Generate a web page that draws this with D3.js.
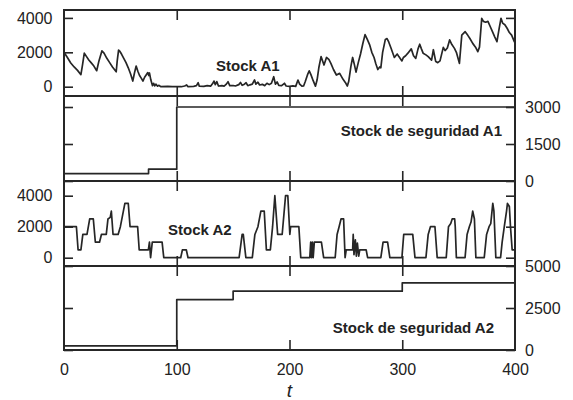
<!DOCTYPE html>
<html><head><meta charset="utf-8">
<script src="https://cdn.jsdelivr.net/npm/d3@7"></script>
<style>
body{margin:0;background:#fff}
svg text{font-family:"Liberation Sans",Arial,sans-serif;fill:#222}
</style>
</head><body>
<svg id="c" width="573" height="400"></svg>
<script>
// ---- data ----
const xTicks = [0, 100, 200, 300, 400];
const stockTicks = [0, 2000, 4000];
const safety1Ticks = [0, 1500, 3000];
const safety2Ticks = [0, 2500, 5000];
const titles = ["Stock A1", "Stock de seguridad A1", "Stock A2", "Stock de seguridad A2"];

const stockA1 = [
[0,2000],[3,1700],[6,1380],[9,1150],[12,950],[15,700],[16.5,1300],[18,1950],[20,1750],[22,1550],[24,1400],[26.5,1200],[29,930],[31,1500],[33.6,2080],[35.5,1950],[38,1650],[40.5,1400],[43,1150],[46.3,870],[47.2,1500],[48.4,2130],[49.6,2050],[51,1900],[53,1650],[55,1400],[57,1100],[59,750],[61,330],[62.5,800],[64,1200],[65.5,900],[67,650],[68.5,500],[70,330],[71.5,550],[73,700],[74.3,820],[75.2,650],[75.8,800],[77,400],[78.5,60],[79.5,200],[80.5,50],[81.5,150],[83,30],[84,80],[86,0],[92,20],[96,0],[100,10],[104,0],[107,40],[108.8,100],[110,0],[115,20],[117.5,60],[119,230],[120,30],[124,20],[127,60],[130,30],[132,200],[133,330],[134.2,120],[135.5,300],[137,40],[140,60],[142,30],[144,150],[145.5,290],[147,60],[150,70],[152,40],[155,120],[156.5,250],[158,80],[160,150],[161.5,230],[163,60],[165,110],[167,150],[169,390],[170.2,150],[172,260],[173.5,100],[176,140],[178,60],[180,200],[182,120],[184,200],[186,580],[187.5,150],[189,280],[190.5,80],[193,60],[195.5,200],[197,40],[200,20],[203,50],[205.5,20],[207.5,390],[209,150],[211,30],[212.5,40],[214,300],[216,700],[217.5,920],[219,700],[221,350],[223,30],[224.5,400],[226,1100],[228,1750],[230.6,1260],[232.8,1700],[234.9,1590],[236.7,1360],[239,1000],[241.6,680],[244.5,775],[247.5,430],[249.5,250],[251.3,40],[252.5,300],[254.5,1200],[256,1700],[257.5,1300],[259,850],[261,1400],[263,1900],[265,2500],[267,3030],[269,2750],[271,2450],[273,2000],[275,1700],[276.5,1350],[278.3,1000],[280,1150],[281,1100],[282.6,2000],[285,2750],[286.5,2800],[288,2600],[290,2250],[293,1700],[295.5,1900],[297,1750],[299.7,1500],[301,1700],[303,1800],[305,1950],[308,2200],[310,1800],[312,1650],[314,2200],[315.5,2470],[317,2200],[318.5,1950],[321,1850],[323,1750],[326,1550],[327.6,2150],[329.7,1460],[331.5,1400],[333.5,1500],[336.4,2290],[338,2100],[340,2250],[342,2720],[344,2450],[346.3,2230],[348,2000],[350.7,1360],[352.8,3000],[355.8,3200],[358,3000],[360,2800],[362.5,2520],[365,2300],[367,2040],[368.5,2300],[370.5,3970],[372,3800],[374,3750],[376,3800],[378,3500],[380,3200],[382,2900],[384,2620],[386,3400],[387.6,3980],[389,3700],[391,3600],[393,3400],[395,3150],[397,3000],[399.4,2620],[400,2550]
];

const safetyA1 = [[0,300],[75,480],[100,3000],[400,3000]];

const stockA2 = [
[0,2000],[11,2000],[12.5,500],[15,500],[16.7,1500],[20.4,1500],[22.8,2500],[26,2500],[27.8,1000],[31.5,1000],[33.2,1500],[37.5,1500],[39,2500],[41,2600],[42,3000],[43.5,1500],[48,1500],[50,2000],[54,3500],[57,3500],[58.6,2000],[65.3,2000],[66.7,500],[74.8,500],[75.8,1000],[76.8,0],[78.3,1000],[87,1000],[88.5,0],[103.5,0],[105,500],[108.5,500],[110,0],[155.3,0],[158,1500],[159,1500],[161.3,0],[167,0],[169.3,1500],[172,2000],[174.6,3000],[177.6,3000],[179.5,500],[183,500],[185,2000],[187,4000],[188,3000],[189.5,1500],[193.5,1500],[196.5,4000],[198.5,4000],[200.3,1500],[201,2000],[208.3,2000],[210,0],[218,0],[218.8,1000],[219.5,0],[220.3,1000],[221,0],[222,1000],[228.3,1000],[230.3,0],[240.5,0],[242.2,1500],[244,2000],[245.7,2500],[248,2500],[249.3,0],[250.3,500],[256,500],[256.5,1500],[257.2,200],[258.4,1150],[259.3,100],[260.2,950],[261.4,100],[262.3,500],[268,500],[269.3,0],[281,0],[283,1000],[287,1000],[289,0],[299.7,0],[301.3,1500],[309.3,1500],[311.3,0],[321,0],[323,1500],[325,2000],[329,2000],[331,0],[339,0],[341,2000],[343,2200],[344.3,2500],[346.5,2500],[347,2000],[348,0],[355.7,0],[357.5,1500],[359.5,2000],[361,2300],[362.5,3000],[364,2500],[365.3,0],[372.7,0],[374.8,1500],[377,2000],[378.5,2200],[380.3,3500],[381.3,3000],[383,0],[387.2,0],[388.6,1000],[390.5,2000],[392.5,3000],[393.3,3500],[395,3300],[396,2000],[397.5,500],[400,500]
];

const safetyA2 = [[0,250],[100,3000],[150,3500],[300,4000],[400,4000]];

// ---- drawing ----
const svg = d3.select("#c");
const X0 = 64, X1 = 515;
const x = d3.scaleLinear().domain([0, 400]).range([X0, X1]);
const ink = "#262626";
const fmt = d3.format("d");

const panels = [
  {top:10,  bottom:96,  domain:[-540,4460], data:stockA1,  step:false, ticks:stockTicks,   side:"left",  title:titles[0], tx:216, ty:70.5, anchor:"start"},
  {top:96,  bottom:181, domain:[0,3446],    data:safetyA1, step:true,  ticks:safety1Ticks, side:"right", title:titles[1], tx:502, ty:136,  anchor:"end"},
  {top:181, bottom:266, domain:[-535,4948], data:stockA2,  step:false, ticks:stockTicks,   side:"left",  title:titles[2], tx:168, ty:235,  anchor:"start"},
  {top:266, bottom:350, domain:[0,5000],    data:safetyA2, step:true,  ticks:safety2Ticks, side:"right", title:titles[3], tx:494, ty:333,  anchor:"end"}
];

function styleAxis(g, keepText) {
  g.select(".domain").remove();
  g.selectAll(".tick line").attr("stroke", ink).attr("stroke-width", 1.6);
  if (!keepText) g.selectAll(".tick text").remove();
  else g.selectAll(".tick text").attr("fill", ink).style("font-size", "16px")
        .style("font-family", '"Liberation Sans", Arial, sans-serif');
}

panels.forEach((p, i) => {
  const y = d3.scaleLinear().domain(p.domain).range([p.bottom, p.top]);
  const g = svg.append("g");

  // data line
  const line = d3.line().x(d => x(d[0])).y(d => y(d[1]))
    .curve(p.step ? d3.curveStepAfter : d3.curveLinear);
  g.append("path").datum(p.data).attr("d", line)
    .attr("fill", "none").attr("stroke", ink).attr("stroke-width", 1.7)
    .attr("stroke-linejoin", "round");

  // y axes (ticks inward on both sides)
  g.append("g").attr("transform", `translate(${X0},0)`)
    .call(d3.axisLeft(y).tickValues(p.ticks).tickFormat(fmt).tickSize(-9).tickPadding(11.5))
    .call(a => styleAxis(a, p.side === "left"));
  g.append("g").attr("transform", `translate(${X1},0)`)
    .call(d3.axisRight(y).tickValues(p.ticks).tickFormat(fmt).tickSize(-9).tickPadding(10))
    .call(a => styleAxis(a, p.side === "right"));

  // x ticks top & bottom (inward)
  g.append("g").attr("transform", `translate(0,${p.top})`)
    .call(d3.axisTop(x).tickValues([100,200,300]).tickSize(-10))
    .call(a => styleAxis(a, false));
  const isLast = i === panels.length - 1;
  g.append("g").attr("transform", `translate(0,${p.bottom})`)
    .call(d3.axisBottom(x).tickValues(isLast ? xTicks : [100,200,300]).tickFormat(fmt).tickSize(-10).tickPadding(13.5))
    .call(a => {
      styleAxis(a, isLast);
      if (isLast) a.selectAll(".tick line").filter(d => d === 0 || d === 400).remove();
    });

  // frame
  g.append("rect").attr("x", X0).attr("y", p.top)
    .attr("width", X1 - X0).attr("height", p.bottom - p.top)
    .attr("fill", "none").attr("stroke", ink).attr("stroke-width", 2);

  // title
  g.append("text").attr("x", p.tx).attr("y", p.ty).attr("text-anchor", p.anchor)
    .style("font-size", "15px").style("font-weight", "bold").text(p.title);
});

svg.append("text").attr("x", x(200)).attr("y", 397).attr("text-anchor", "middle")
  .style("font-size", "19px").style("font-style", "italic").text("t");
</script>
</body></html>
